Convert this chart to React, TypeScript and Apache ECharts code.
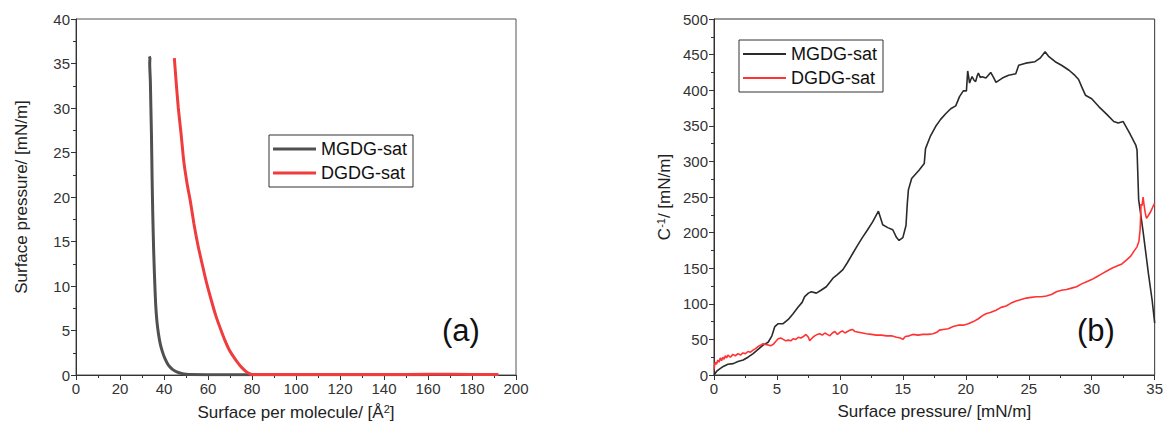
import React, { useEffect, useRef } from "react";
import * as echarts from "echarts";

// (a) isotherms: [area per molecule (Å²), surface pressure (mN/m)]
const mgdgIsotherm: [number, number][] = [
  [33.3, 35.8], [33.6, 35.6], [33.5, 35.0], [33.8, 33], [34.0, 30.5], [34.3, 27], [34.6, 22], [34.9, 18],
  [35.3, 14], [35.7, 11], [36.2, 8], [36.8, 6], [37.5, 4.6], [38.3, 3.5], [39.3, 2.6], [40.5, 1.8],
  [42.0, 1.1], [44, 0.6], [46.5, 0.28], [50, 0.08], [60, 0.03], [80, 0.02], [100, 0.02], [120, 0.02],
  [140, 0.02], [160, 0.02],
];
const dgdgIsotherm: [number, number][] = [
  [44.7, 35.6], [45.5, 33], [46.5, 30], [47.8, 27], [49, 24], [50.5, 21.5], [52, 19.5], [53.6, 17],
  [55.5, 14.5], [57.5, 12.3], [59.5, 10.2], [61.5, 8.4], [63.5, 6.7], [65.5, 5.3], [67.5, 4.0],
  [69.5, 2.9], [71.5, 2.1], [73.5, 1.4], [75.5, 0.8], [77.5, 0.35], [79.5, 0.08], [81, 0.05],
  [100, 0.05], [120, 0.06], [140, 0.05], [160, 0.08], [180, 0.06], [192, 0.05],
];

// (b) compression modulus: [surface pressure (mN/m), C^-1 (mN/m)]
const mgdgModulus: [number, number][] = [
  [0, 0], [0.2, 5], [0.4, 8], [0.74, 12], [1.1, 15], [1.53, 16], [1.9, 19], [2.32, 21], [2.7, 25],
  [3.11, 30], [3.5, 36], [3.9, 42], [4.3, 46], [4.6, 55], [4.83, 68], [5.1, 72], [5.49, 72], [5.9, 78],
  [6.28, 86], [6.67, 95], [7.0, 102], [7.2, 110], [7.5, 115], [7.73, 117], [8.13, 115], [8.5, 119],
  [8.92, 124], [9.45, 136], [9.8, 141], [10.24, 148], [10.6, 158], [11.03, 171], [11.4, 182],
  [11.82, 194], [12.2, 204], [12.6, 215], [13.06, 230], [13.4, 211], [13.8, 207], [14.2, 204],
  [14.5, 193], [14.7, 189], [15.0, 193], [15.25, 210], [15.35, 240], [15.44, 260], [15.7, 276],
  [16.3, 288], [16.7, 297], [16.8, 318], [17.2, 336], [17.6, 349], [18.0, 359], [18.4, 367],
  [18.8, 374], [19.2, 378], [19.5, 391], [19.8, 399], [20.05, 399], [20.15, 427], [20.3, 410],
  [20.4, 415], [20.5, 419], [20.65, 414], [20.78, 412], [20.9, 420], [21.0, 424], [21.15, 418],
  [21.3, 419], [21.6, 417], [21.98, 425], [22.2, 418], [22.4, 411], [22.9, 417], [23.4, 421],
  [23.97, 423], [24.2, 435], [24.76, 438], [25.5, 440], [25.9, 445], [26.3, 454], [26.6, 447],
  [27.1, 440], [27.6, 435], [28.2, 428], [28.6, 422], [28.96, 415], [29.2, 405], [29.5, 393],
  [30.0, 388], [30.56, 377], [31.2, 366], [31.75, 356], [32.1, 354], [32.5, 356], [33.0, 340],
  [33.5, 323], [33.6, 316], [33.73, 246], [33.9, 225], [34.1, 199], [34.5, 143], [34.8, 105], [35.0, 73],
];
const dgdgModulus: [number, number][] = [
  [0, 8], [0.05, 14], [0.1, 18], [0.2, 15], [0.3, 21], [0.4, 18], [0.5, 24], [0.6, 20], [0.7, 25],
  [0.8, 22], [0.9, 27], [1.0, 24], [1.1, 28], [1.3, 25], [1.5, 29], [1.7, 27], [1.9, 30], [2.1, 28],
  [2.3, 31], [2.5, 30], [2.7, 33], [2.9, 32], [3.1, 35], [3.3, 37], [3.5, 40], [3.7, 42], [3.9, 44],
  [4.1, 43], [4.3, 42], [4.5, 41], [4.7, 43], [4.9, 47], [5.1, 51], [5.3, 52], [5.5, 50], [5.7, 48],
  [5.9, 49], [6.1, 48], [6.3, 51], [6.5, 50], [6.7, 53], [6.9, 52], [7.1, 54], [7.3, 57], [7.5, 53],
  [7.6, 48], [7.8, 52], [8.0, 55], [8.2, 57], [8.4, 58], [8.6, 56], [8.8, 59], [9.0, 57], [9.2, 55],
  [9.4, 59], [9.6, 61], [9.8, 57], [10.0, 60], [10.2, 62], [10.4, 59], [10.6, 61], [10.8, 63],
  [11.0, 64], [11.2, 61], [11.5, 60], [11.8, 59], [12.1, 58], [12.5, 57], [12.9, 56], [13.3, 56],
  [13.7, 55], [14.1, 55], [14.5, 53], [14.8, 52], [15.0, 50], [15.2, 54], [15.5, 55], [15.8, 57],
  [16.2, 56], [16.6, 57], [17.0, 57], [17.4, 58], [17.7, 60], [17.9, 63], [18.2, 64], [18.6, 65],
  [19.0, 68], [19.4, 70], [19.8, 70], [20.2, 72], [20.6, 75], [21.0, 79], [21.3, 83], [21.6, 86],
  [22.0, 88], [22.4, 91], [22.8, 95], [23.2, 97], [23.6, 101], [24.0, 104], [24.4, 106], [24.8, 108],
  [25.2, 109], [25.6, 110], [26.0, 110], [26.4, 111], [26.8, 113], [27.2, 117], [27.6, 119],
  [28.0, 120], [28.4, 122], [28.8, 124], [29.2, 128], [29.6, 131], [30.0, 134], [30.4, 138],
  [30.8, 142], [31.2, 146], [31.6, 150], [32.0, 153], [32.4, 156], [32.8, 162], [33.1, 167],
  [33.4, 175], [33.6, 180], [33.75, 188], [33.85, 205], [33.92, 240], [34.0, 238], [34.08, 250],
  [34.15, 240], [34.25, 228], [34.35, 220], [34.5, 224], [34.7, 230], [34.85, 236], [35.0, 241],
];

const seriesNames = ["MGDG-sat", "DGDG-sat"];
const panelLabels = ["(a)", "(b)"];

const FONT = "'Liberation Sans', Arial, sans-serif";
const AX = "#333";

function axisCommon() {
  return {
    axisLine: { show: true, onZero: false, lineStyle: { color: AX, width: 1 } },
    axisTick: { show: true, length: 5, lineStyle: { color: AX } },
    minorTick: { show: true, splitNumber: 2, length: 3, lineStyle: { color: AX } },
    splitLine: { show: false },
    axisLabel: { color: "#333", fontSize: 15, fontFamily: FONT, margin: 6 },
    nameLocation: "middle" as const,
    nameTextStyle: {
      color: "#222",
      fontSize: 17,
      fontFamily: FONT,
      rich: {
        sup: { fontSize: 11, fontFamily: FONT, color: "#222", verticalAlign: "top", padding: [0, 0, 8, 0] },
      },
    },
  };
}

export default function App() {
  const ref = useRef<HTMLDivElement>(null);
  useEffect(() => {
    document.body.style.margin = "0";
    const chart = echarts.init(ref.current!, null, { renderer: "svg" });
    const legendBase = {
      orient: "vertical" as const,
      borderColor: "#333",
      borderWidth: 1,
      padding: [5, 6, 5, 4],
      itemGap: 6,
      itemWidth: 43,
      icon: "rect",
      textStyle: { fontSize: 18, fontFamily: FONT, color: "#111", padding: [0, 0, 0, 0] },
    };
    chart.setOption({
      animation: false,
      backgroundColor: "#fff",
      grid: [
        { left: 76, right: 650, top: 19, bottom: 57, show: true, borderColor: "#555", borderWidth: 1 },
        { left: 714, right: 10, top: 19, bottom: 57, show: true, borderColor: "#333", borderWidth: 1 },
      ],
      xAxis: [
        {
          ...axisCommon(), gridIndex: 0, type: "value", min: 0, max: 200, interval: 20,
          name: "Surface per molecule/ [Å{sup|2}]", nameGap: 28,
        },
        {
          ...axisCommon(), gridIndex: 1, type: "value", min: 0, max: 35, interval: 5,
          name: "Surface pressure/ [mN/m]", nameGap: 28,
        },
      ],
      yAxis: [
        {
          ...axisCommon(), gridIndex: 0, type: "value", min: 0, max: 40, interval: 5,
          name: "Surface pressure/ [mN/m]", nameGap: 46,
        },
        {
          ...axisCommon(), gridIndex: 1, type: "value", min: 0, max: 500, interval: 50,
          name: "C{sup|-1}/ [mN/m]", nameGap: 40,
        },
      ],
      legend: [
        {
          ...legendBase, left: 269, top: 135, itemHeight: 3,
          data: [
            { name: seriesNames[0], itemStyle: { color: "#505050" } },
            { name: seriesNames[1], itemStyle: { color: "#f03c3c" } },
          ],
        },
        {
          ...legendBase, left: 739, top: 40, itemHeight: 2,
          data: [
            { name: seriesNames[0], itemStyle: { color: "#2b2b2b" } },
            { name: seriesNames[1], itemStyle: { color: "#ff3333" } },
          ],
        },
      ],
      series: [
        {
          name: seriesNames[0], type: "line", xAxisIndex: 0, yAxisIndex: 0, data: mgdgIsotherm,
          showSymbol: false, symbol: "none", smooth: 0.2, lineStyle: { color: "#505050", width: 3 }, itemStyle: { color: "#505050" },
        },
        {
          name: seriesNames[1], type: "line", xAxisIndex: 0, yAxisIndex: 0, data: dgdgIsotherm,
          showSymbol: false, symbol: "none", smooth: 0.2, lineStyle: { color: "#f03c3c", width: 3 }, itemStyle: { color: "#f03c3c" },
        },
        {
          name: seriesNames[0], type: "line", xAxisIndex: 1, yAxisIndex: 1, data: mgdgModulus,
          showSymbol: false, symbol: "none", lineStyle: { color: "#2b2b2b", width: 1.6 }, itemStyle: { color: "#2b2b2b" },
        },
        {
          name: seriesNames[1], type: "line", xAxisIndex: 1, yAxisIndex: 1, data: dgdgModulus,
          showSymbol: false, symbol: "none", lineStyle: { color: "#ff3333", width: 1.6 }, itemStyle: { color: "#ff3333" },
        },
      ],
      graphic: [
        { type: "text", left: 442, top: 315, style: { text: panelLabels[0], fontSize: 31, fontFamily: FONT, fill: "#111" } },
        { type: "text", left: 1077, top: 315, style: { text: panelLabels[1], fontSize: 31, fontFamily: FONT, fill: "#111" } },
      ],
    });
    return () => chart.dispose();
  }, []);
  return <div ref={ref} style={{ width: 1166, height: 432 }} />;
}
